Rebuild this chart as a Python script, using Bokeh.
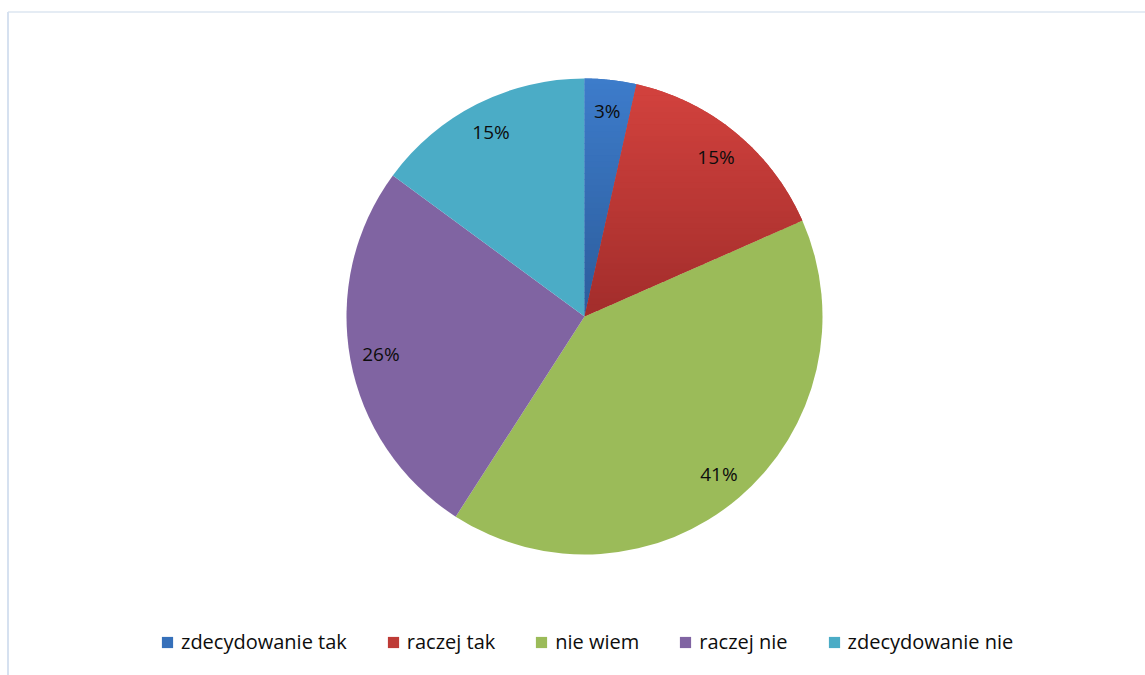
import numpy as np
from bokeh.plotting import figure
from bokeh.models import Range1d, ColumnDataSource, Legend, LegendItem
from bokeh.core.properties import value
from bokeh.embed import file_html
from bokeh.resources import INLINE

categories = ["zdecydowanie tak", "raczej tak", "nie wiem", "raczej nie", "zdecydowanie nie"]
shares = [3.5, 14.9, 40.7, 26.0, 14.9]
labels = ["3%", "15%", "41%", "26%", "15%"]
colors = ["#3670BA", "#BE3B36", "#9BBB59", "#8064A2", "#4BACC6"]
# (top, bottom) shading of slices that carry a vertical gradient
gradients = {0: ("#3D7CCB", "#2C5C9B"), 1: ("#D3423E", "#A22D2B")}

W, H = 1145, 675
FONT = "Open Sans"

p = figure(width=W, height=H, output_backend="svg", toolbar_location=None,
           x_range=Range1d(0, W), y_range=Range1d(0, H),
           min_border=0, outline_line_color=None)
p.axis.visible = False
p.grid.visible = False
p.background_fill_color = "white"
p.border_fill_color = "white"

# chart frame lines (top and left)
p.segment(x0=[7.5, 7.5], y0=[H - 11.5, 0], x1=[W, 7.5], y1=[H - 11.5, H - 11.5],
          line_color=["#DDE6F0", "#D6E1F0"], line_width=[1.5, 2])

cx, cy, R = 584, 359, 238
vals = np.array(shares, dtype=float)
frac = vals / vals.sum()
cum = np.concatenate([[0], np.cumsum(frac)])
start = np.pi / 2 - 2 * np.pi * cum[:-1]
end = np.pi / 2 - 2 * np.pi * cum[1:]
mid = (start + end) / 2

src = ColumnDataSource(dict(start=start, end=end, color=colors, cat=categories,
                            lx=cx + 0.87 * R * np.cos(mid), ly=cy + 0.87 * R * np.sin(mid),
                            lab=labels))

renderers = []
for i in range(len(categories)):
    r = p.wedge(x=cx, y=cy, radius=R, start_angle=start[i], end_angle=end[i],
                direction="clock", fill_color=colors[i], line_color=None)
    renderers.append(r)


def clip(poly, lo, hi):
    def cut(pts, keep, inter):
        out = []
        n = len(pts)
        for k in range(n):
            a, b = pts[k], pts[(k + 1) % n]
            ka, kb = keep(a), keep(b)
            if ka:
                out.append(a)
            if ka != kb:
                out.append(inter(a, b))
        return out

    def iy(y0):
        def f(a, b):
            t = (y0 - a[1]) / (b[1] - a[1])
            return (a[0] + t * (b[0] - a[0]), y0)
        return f
    pts = cut(poly, lambda q: q[1] >= lo, iy(lo))
    if not pts:
        return pts
    return cut(pts, lambda q: q[1] <= hi, iy(hi))


def mix(c1, c2, t):
    a = [int(c1[j:j + 2], 16) for j in (1, 3, 5)]
    b = [int(c2[j:j + 2], 16) for j in (1, 3, 5)]
    return "#%02x%02x%02x" % tuple(round(a[k] + (b[k] - a[k]) * t) for k in range(3))


for i, (ctop, cbot) in gradients.items():
    angs = np.linspace(start[i], end[i], 80)
    poly = [(cx, cy)] + [(cx + R * np.cos(a), cy + R * np.sin(a)) for a in angs]
    ys = [q[1] for q in poly]
    ymin, ymax = min(ys), max(ys)
    nb = 40
    edges = np.linspace(ymax, ymin, nb + 1)
    xs_l, ys_l, cs = [], [], []
    for b in range(nb):
        hi, lo = edges[b] + 0.6, edges[b + 1]
        part = clip(poly, lo, hi)
        if len(part) < 3:
            continue
        xs_l.append([q[0] for q in part])
        ys_l.append([q[1] for q in part])
        cs.append(mix(ctop, cbot, (b + 0.5) / nb))
    p.patches(xs=xs_l, ys=ys_l, fill_color=cs, line_color=None)

p.text(x="lx", y="ly", text="lab", source=src, text_font=value(FONT),
       text_font_size="19px", text_color="#0d0d0d", text_align="center",
       text_baseline="middle")

legend = Legend(items=[LegendItem(label=categories[i], renderers=[renderers[i]])
                       for i in range(len(categories))],
                orientation="horizontal", location=(160, 20),
                padding=0, margin=0, spacing=39, label_standoff=7,
                glyph_width=14, glyph_height=14, label_height=14,
                label_text_font=FONT, label_text_font_size="20px",
                label_text_color="#0d0d0d",
                border_line_color=None, background_fill_alpha=0)
p.add_layout(legend, "center")

open("out.html", "w").write(file_html(p, INLINE))
